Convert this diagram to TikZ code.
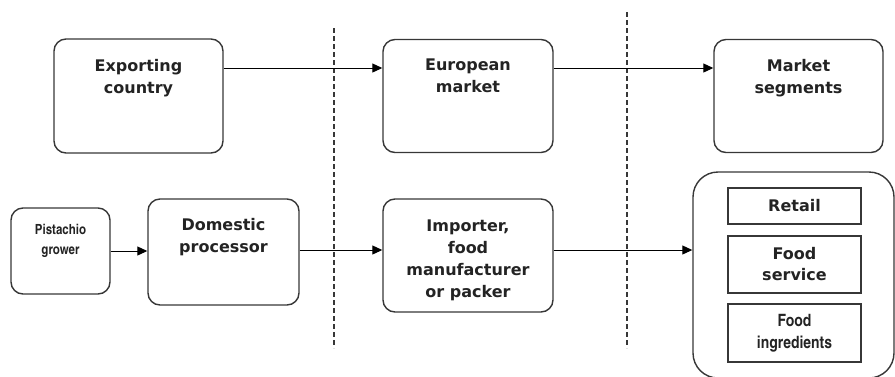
\documentclass[tikz,border=0pt]{standalone}
\usepackage{fontspec}
\setmainfont{DejaVu Sans}
\newfontfamily\narrowfont{texgyreheroscn-bold.otf}
\usetikzlibrary{arrows.meta,positioning}
\definecolor{boxgray}{RGB}{55,55,55}
\definecolor{inkgray}{RGB}{35,35,35}
\tikzset{
  stage/.style={draw=boxgray, line width=1.4pt, rounded corners=12pt, inner sep=0pt},
  segbox/.style={draw=boxgray, line width=1.4pt, minimum width=133pt, inner sep=0pt,
    font=\bfseries\fontsize{16}{21}\selectfont, align=center, text=inkgray},
  lbl/.style={font=\bfseries\fontsize{16}{22}\selectfont, align=center, text=inkgray, inner sep=0pt},
  flow/.style={-{Triangle[length=10pt,width=9pt]}, line width=1pt},
  frontier/.style={draw=boxgray, line width=1.3pt, dash pattern=on 5pt off 3pt}
}
\begin{document}
\begin{tikzpicture}[x=1pt,y=-1pt]
\useasboundingbox (0,0) rectangle (895,376);

% borders between the stages
\draw[frontier] (334,28)--(334,348);
\draw[frontier] (627,12)--(627,348);

% top row
\node[stage, minimum width=169pt, minimum height=114pt] (export) at (138.5,96) {};
\node[stage, minimum width=170pt, minimum height=113pt] (europe) at (468,96) {};
\node[stage, minimum width=169pt, minimum height=113pt] (segments) at (798.5,96) {};
\node[lbl, below=21pt of export.north, anchor=north] (exporttxt) {Exporting\\country};
\node[lbl, below=20pt of europe.north, anchor=north] (europetxt) {European\\market};
\node[lbl, below=20pt of segments.north, anchor=north] (segmentstxt) {Market\\segments};

\draw[flow] ([yshift=28pt]export.east) -- ([yshift=28pt]europe.west);
\draw[flow] ([yshift=28pt]europe.east) -- ([yshift=28pt]segments.west);

% bottom row
\node[stage, minimum width=99pt, minimum height=86pt] (grower) at (60.5,251) {};
\node[stage, minimum width=151pt, minimum height=106pt] (processor) at (223.5,252) {};
\node[stage, minimum width=170pt, minimum height=113pt] (importer) at (468,255.5) {};
\node[stage, rounded corners=25pt, minimum width=201pt, minimum height=206pt] (channels) at (793.5,275) {};

\node[below=17pt of grower.north, anchor=north, inner sep=0pt, align=center, text=inkgray,
  font=\narrowfont\fontsize{14}{20}\selectfont] (growertxt) {Pistachio\\grower};
\node[lbl, below=20pt of processor.north, anchor=north] (processortxt) {Domestic\\processor};
\node[lbl, below=21pt of importer.north, anchor=north] (importertxt) {Importer,\\food\\manufacturer\\or packer};

\node[segbox, minimum height=36pt] (retail) at (794.5,206) {Retail};
\node[segbox, minimum height=57pt] (service) at (794.5,264.5) {Food\\service};
\node[segbox, minimum height=58pt, font=\narrowfont\fontsize{17}{22}\selectfont] (ingredients) at (794.5,333) {Food\\ingredients};

\draw[flow] (grower.east) -- (grower.east -| processor.west);
\draw[flow] ([yshift=2pt]processor.east) -- ([yshift=2pt]processor.east -| importer.west);
\draw[flow] ([yshift=5.5pt]importer.east) -- ([yshift=5.5pt]importer.east -| channels.west);
\end{tikzpicture}
\end{document}
